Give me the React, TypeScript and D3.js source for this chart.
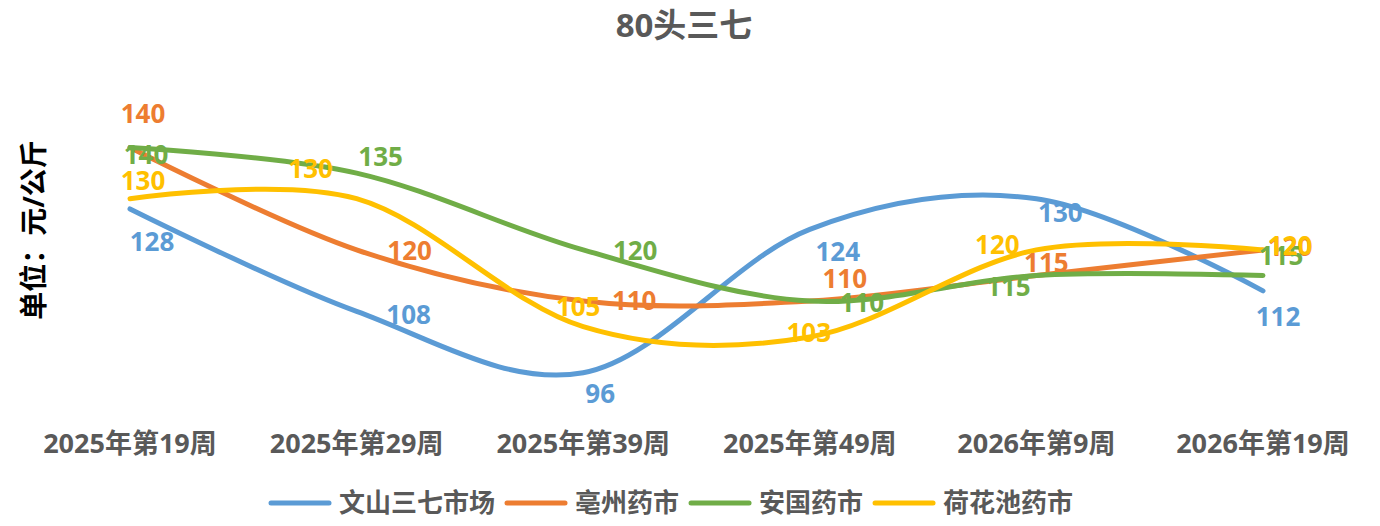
import { useEffect, useRef } from "react";
import * as d3 from "d3";

const categories = [
  "2025年第19周",
  "2025年第29周",
  "2025年第39周",
  "2025年第49周",
  "2026年第9周",
  "2026年第19周",
];

const wenshan = [128, 108, 96, 124, 130, 112];
const bozhou = [140, 120, 110, 110, 115, 120];
const anguo = [140, 135, 120, 110, 115, 115];
const hehuachi = [130, 130, 105, 103, 120, 120];

const seriesNames = ["文山三七市场", "亳州药市", "安国药市", "荷花池药市"];
const seriesValues = [wenshan, bozhou, anguo, hehuachi];
const colors = ["#5B9BD5", "#ED7D31", "#70AD47", "#FFC000"];

// label placement (dx, dy from the point), hand-tuned like the Excel original
const labelOffsets: [number, number][][] = [
  [[22, 33], [52, 3], [17, 21], [28, 22], [24, 14], [15, 26]],
  [[13, -34], [53, 1], [51, 0], [35, -22], [10, -13], [27, -3]],
  [[16, 7], [24, -16], [52, 1], [52, 2], [-28, 11], [18, -20]],
  [[13, -18], [-46, -30], [-5, -20], [-1, -4], [-39, -5], [27, -4]],
];

const W = 1380;
const H = 526;
const FONT = "'Open Sans', 'Noto Sans CJK SC', sans-serif";
const GRAY = "#595959";

export default function App() {
  const svgRef = useRef<SVGSVGElement>(null);

  useEffect(() => {
    if (!svgRef.current) return;
    const svg = d3.select(svgRef.current);
    svg.selectAll("*").remove();

    const x = d3.scalePoint<string>().domain(categories).range([130, 1263]);
    const y = d3.scaleLinear().domain([90, 150]).range([403.5, 96.3]);

    // Title
    svg
      .append("text")
      .attr("x", 684)
      .attr("y", 37)
      .attr("text-anchor", "middle")
      .attr("font-family", FONT)
      .attr("font-size", 33)
      .attr("font-weight", "bold")
      .attr("fill", GRAY)
      .text("80头三七");

    // Y-axis title
    svg
      .append("text")
      .attr("transform", "translate(44,230) rotate(-90)")
      .attr("text-anchor", "middle")
      .attr("font-family", FONT)
      .attr("font-size", 28)
      .attr("font-weight", "bold")
      .attr("fill", "#000")
      .text("单位：元/公斤");

    // Category labels
    svg
      .append("g")
      .selectAll("text")
      .data(categories)
      .enter()
      .append("text")
      .attr("x", (d) => x(d)!)
      .attr("y", 453)
      .attr("text-anchor", "middle")
      .attr("font-family", FONT)
      .attr("font-size", 27)
      .attr("font-weight", "bold")
      .attr("fill", GRAY)
      .text((d) => d);

    // Excel-style smoothed lines
    const line = d3
      .line<number>()
      .x((_, i) => x(categories[i])!)
      .y((d) => y(d))
      .curve(d3.curveCardinal.tension(0));

    seriesValues.forEach((vals, s) => {
      svg
        .append("path")
        .datum(vals)
        .attr("fill", "none")
        .attr("stroke", colors[s])
        .attr("stroke-width", 5)
        .attr("stroke-linecap", "round")
        .attr("stroke-linejoin", "round")
        .attr("d", line);
    });

    // Data labels
    seriesValues.forEach((vals, s) => {
      svg
        .append("g")
        .selectAll("text")
        .data(vals)
        .enter()
        .append("text")
        .attr("x", (_, i) => x(categories[i])! + labelOffsets[s][i][0])
        .attr("y", (d, i) => y(d) + labelOffsets[s][i][1])
        .attr("dy", "0.36em")
        .attr("text-anchor", "middle")
        .attr("font-family", FONT)
        .attr("font-size", 26)
        .attr("font-weight", "bold")
        .attr("fill", colors[s])
        .text((d) => d);
    });

    // Legend
    const legend = svg.append("g").attr("transform", "translate(0,503)");
    let cx = 271;
    seriesNames.forEach((name, s) => {
      const g = legend.append("g").attr("transform", `translate(${cx},0)`);
      g.append("line")
        .attr("x1", 0)
        .attr("x2", 58)
        .attr("stroke", colors[s])
        .attr("stroke-width", 5)
        .attr("stroke-linecap", "round");
      const t = g
        .append("text")
        .attr("x", 68)
        .attr("dy", "0.36em")
        .attr("font-family", FONT)
        .attr("font-size", 26)
        .attr("font-weight", "bold")
        .attr("fill", GRAY)
        .text(name);
      cx += 68 + (t.node() as SVGTextElement).getComputedTextLength() + 12;
    });
  }, []);

  return (
    <div style={{ position: "absolute", left: 0, top: 0 }}>
      <svg ref={svgRef} width={W} height={H} style={{ display: "block", background: "#fff" }} />
    </div>
  );
}
